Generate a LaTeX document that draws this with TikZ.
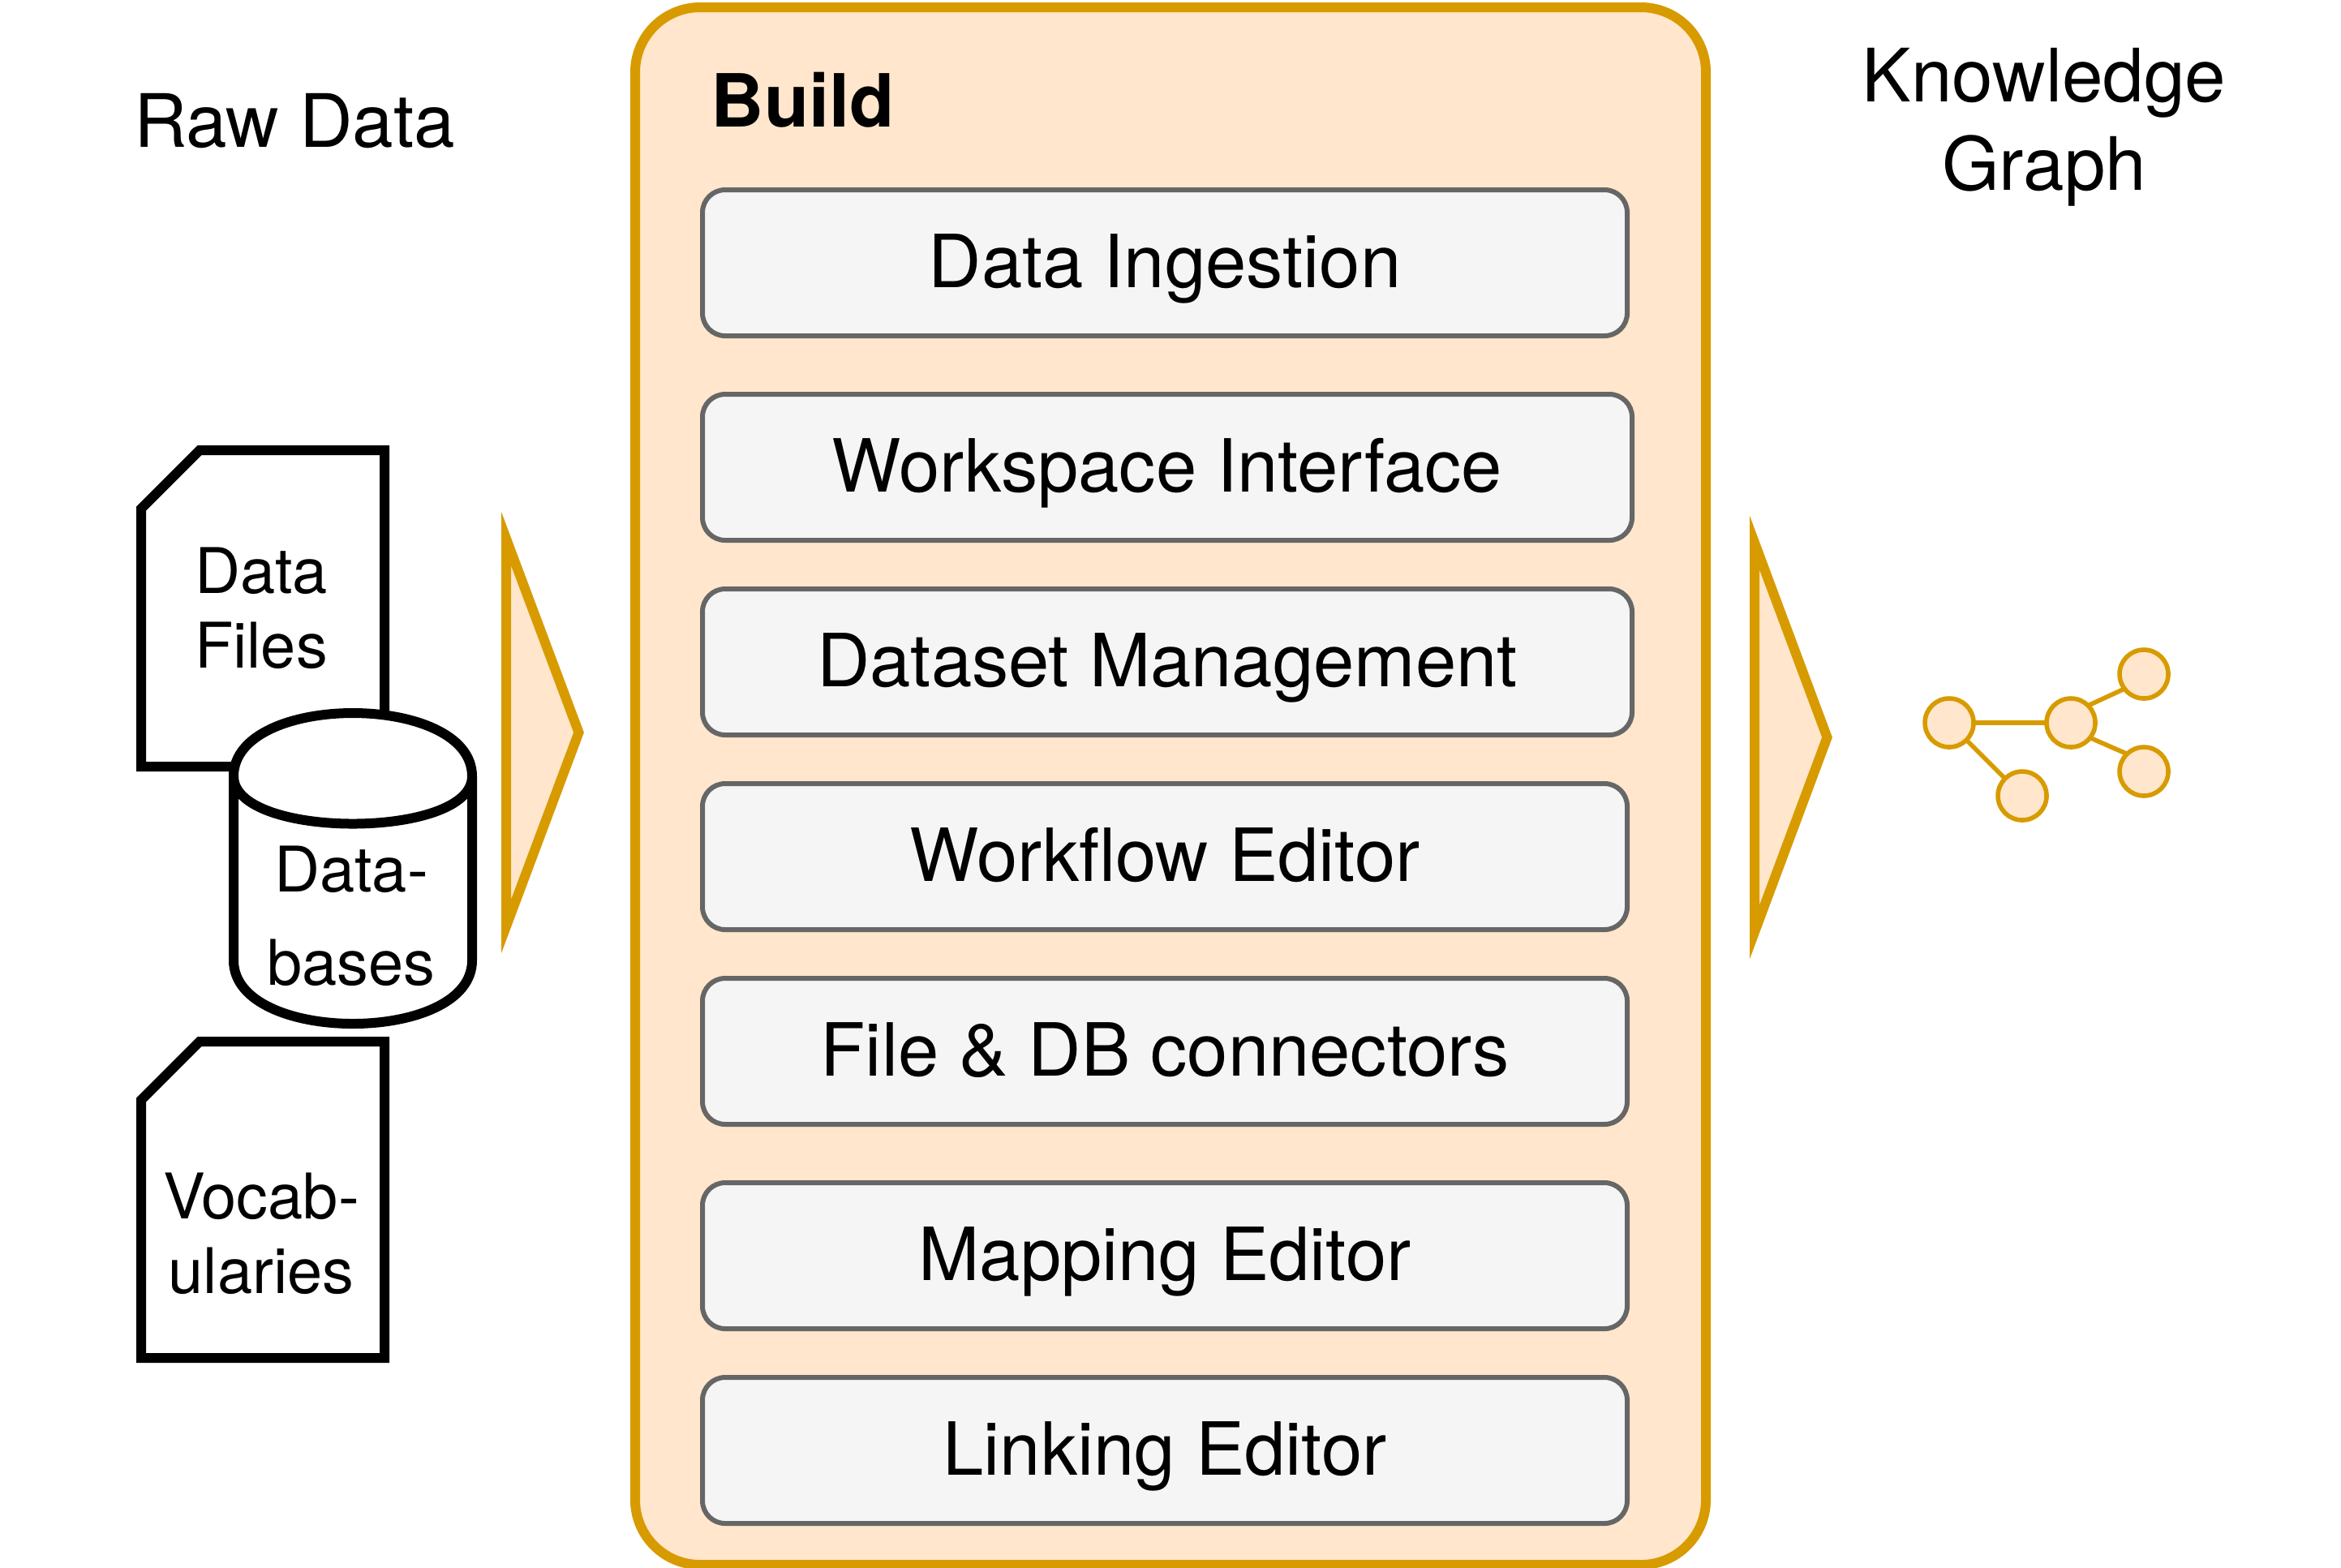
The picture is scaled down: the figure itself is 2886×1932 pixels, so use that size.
\documentclass[tikz,border=0pt]{standalone}
\usepackage{fontspec}
\setmainfont{TeX Gyre Heros}
\definecolor{orangeline}{HTML}{D79B00}
\definecolor{orangefill}{HTML}{FFE6CC}
\definecolor{greyfill}{HTML}{F5F5F5}
\definecolor{greyline}{HTML}{666666}
\tikzset{
  frame/.style={draw=orangeline,fill=orangefill,line width=3pt,rounded corners=20pt,rectangle,inner sep=0pt,outer sep=0pt},
  toolbox/.style={draw=greyline,fill=greyfill,line width=1.5pt,rounded corners=7pt,rectangle,inner sep=0pt,outer sep=0pt,
    minimum height=45pt,text height=19pt,text depth=4pt,font=\fontsize{22.6}{27}\selectfont},
  pointer/.style={draw=orangeline,fill=orangefill,line width=3pt,miter limit=20},
  blackshape/.style={draw=black,fill=white,line width=3pt,miter limit=10},
  smalltext/.style={align=center,inner sep=0pt,font=\fontsize{19.4}{23}\selectfont},
  bigtext/.style={align=center,inner sep=0pt,font=\fontsize{22.7}{27.2}\selectfont},
  graphdot/.style={circle,draw=orangeline,fill=orangefill,line width=1.4pt,minimum size=15pt,inner sep=0pt,outer sep=0pt},
  graphedge/.style={draw=orangeline,line width=1.4pt}
}
\begin{document}
\begin{tikzpicture}[x=0.25pt,y=-0.25pt]
\useasboundingbox (0,0) rectangle (2886,1932);
\fill[white] (0,0) rectangle (2886,1932);

% Build frame
\node[frame,minimum width=330pt,minimum height=480pt] (build) at (1443,969) {};
\node[anchor=base west,inner sep=0pt,font=\fontsize{22.6}{26}\selectfont\bfseries] (buildlabel) at (876,156) {Build};

% Tool boxes
\node[toolbox,minimum width=285pt] (b1) at (1436,324) {Data Ingestion};
\node[toolbox,minimum width=286.5pt] (b2) at (1439,576) {Workspace Interface};
\node[toolbox,minimum width=286.5pt] (b3) at (1439,816) {Dataset Management};
\node[toolbox,minimum width=285pt] (b4) at (1436,1056) {Workflow Editor};
\node[toolbox,minimum width=285pt] (b5) at (1436,1296) {File \& DB connectors};
\node[toolbox,minimum width=285pt] (b6) at (1436,1548) {Mapping Editor};
\node[toolbox,minimum width=285pt] (b7) at (1436,1788) {Linking Editor};

% Raw data side
\node[bigtext] (rawlabel) at (363,149) {Raw Data};
\draw[blackshape] (174,627) -- (246,555) -- (474,555) -- (474,945) -- (174,945) -- cycle;
\node[smalltext] (datafiles) at (322,750) {Data\\Files};
\draw[blackshape] (174,1356) -- (246,1284) -- (474,1284) -- (474,1674) -- (174,1674) -- cycle;
\node[smalltext] (vocab) at (322,1521) {Vocab-\\ularies};
% Cylinder
\draw[blackshape] (288,957) .. controls (288,853) and (582,853) .. (582,957)
  -- (582,1184) .. controls (582,1288) and (288,1288) .. (288,1184) -- cycle;
\draw[blackshape,fill=none] (288,957) .. controls (288,1035) and (582,1035) .. (582,957);
\node[inner sep=0pt,font=\fontsize{19.4}{28.75}\selectfont,align=center] (databases) at (433,1129) {Data-\\bases};

% Pointers
\draw[pointer] (624,664) -- (713.5,903) -- (624,1142) -- cycle;
\draw[pointer] (2163,669) -- (2252.5,909) -- (2163,1149) -- cycle;

% Knowledge graph side
\node[bigtext] (kglabel) at (2520,157) {Knowledge\\Graph};
\node[graphdot] (g1) at (2403,891) {};
\node[graphdot] (g2) at (2553,891) {};
\node[graphdot] (g3) at (2643,831) {};
\node[graphdot] (g4) at (2643,951) {};
\node[graphdot] (g5) at (2493,981) {};
\draw[graphedge] (g1) -- (g2);
\draw[graphedge] (g1.-45) -- (g5.135);
\draw[graphedge] (g2.45) -- (g3.217);
\draw[graphedge] (g2.-38) -- (g4.134);
\end{tikzpicture}
\end{document}
